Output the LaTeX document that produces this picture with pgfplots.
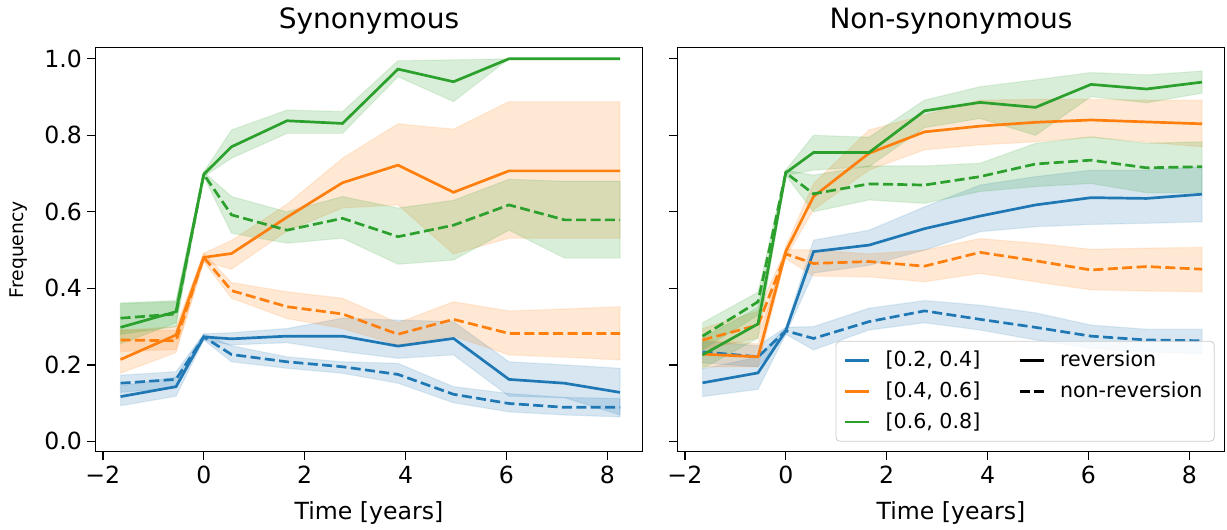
\documentclass[border=0pt]{standalone}
\usepackage{fontspec}
\setmainfont{DejaVu Sans}
\usepackage{pgfplots}
\pgfplotsset{compat=1.18}
\usepackage{pgfplotstable}
\usepgfplotslibrary{fillbetween}

\definecolor{c1}{HTML}{1F77B4}
\definecolor{c2}{HTML}{FF7F0E}
\definecolor{c3}{HTML}{2CA02C}

\pgfplotstableread{
x     bs   bsl  bsh  bd   bdl  bdh  os   osl  osh  od   odl  odh  gs   gsl  gsh  gd   gdl  gdh
-1.65 .117 .093 .145 .152 .128 .173 .214 .178 .290 .265 .235 .292 .298 .255 .362 .322 .280 .360
-0.55 .143 .118 .168 .162 .140 .182 .278 .232 .300 .263 .240 .290 .339 .310 .368 .333 .300 .365
0     .273 .265 .281 .273 .265 .281 .481 .470 .492 .481 .470 .492 .698 .692 .704 .698 .692 .704
0.55  .268 .252 .284 .227 .208 .250 .491 .450 .525 .394 .374 .415 .770 .740 .814 .592 .544 .640
1.65  .275 .258 .295 .208 .191 .221 .586 .550 .620 .352 .321 .391 .838 .805 .866 .552 .518 .600
2.75  .275 .235 .322 .195 .178 .208 .676 .610 .740 .333 .295 .374 .831 .805 .862 .583 .531 .640
3.85  .249 .217 .317 .175 .152 .204 .722 .618 .830 .280 .252 .310 .973 .953 .995 .535 .463 .610
4.95  .269 .226 .313 .123 .101 .143 .651 .490 .816 .319 .275 .365 .940 .888 .997 .565 .474 .630
6.05  .162 .118 .208 .099 .077 .125 .707 .531 .888 .282 .226 .341 1.0  1.0  1.0  .618 .552 .685
7.15  .152 .114 .200 .089 .069 .115 .707 .531 .888 .282 .220 .346 1.0  1.0  1.0  .579 .479 .680
8.25  .128 .069 .191 .089 .064 .112 .707 .531 .888 .282 .213 .352 1.0  1.0  1.0  .579 .479 .680
}\syn

\pgfplotstableread{
x     bs   bsl  bsh  bd   bdl  bdh  os   osl  osh  od   odl  odh  gs   gsl  gsh  gd   gdl  gdh
-1.65 .153 .117 .190 .234 .205 .262 .228 .195 .265 .265 .240 .295 .226 .190 .270 .275 .240 .310
-0.55 .179 .136 .220 .221 .195 .250 .221 .195 .255 .304 .270 .340 .307 .270 .350 .365 .330 .390
0     .289 .280 .298 .289 .280 .298 .496 .482 .510 .490 .478 .502 .702 .695 .709 .702 .695 .709
0.55  .496 .440 .526 .269 .239 .300 .640 .605 .674 .465 .432 .500 .755 .709 .800 .647 .600 .696
1.65  .513 .460 .552 .313 .291 .348 .753 .709 .814 .470 .430 .490 .755 .718 .795 .673 .631 .720
2.75  .556 .500 .613 .341 .310 .368 .809 .762 .853 .458 .417 .500 .864 .820 .892 .670 .622 .720
3.85  .589 .548 .670 .319 .291 .356 .824 .775 .892 .494 .439 .530 .886 .844 .927 .692 .653 .727
4.95  .618 .561 .692 .298 .265 .336 .834 .783 .894 .472 .417 .518 .873 .800 .945 .725 .666 .779
6.05  .637 .567 .709 .275 .243 .304 .840 .795 .894 .448 .396 .502 .933 .901 .964 .735 .674 .796
7.15  .635 .570 .709 .265 .234 .293 .835 .782 .892 .457 .393 .505 .921 .885 .958 .715 .650 .779
8.25  .646 .574 .718 .263 .229 .293 .830 .770 .892 .450 .391 .507 .939 .910 .968 .718 .650 .783
}\nonsyn

% band: #1 table, #2 column, #3 colour, #4 prefix
\newcommand{\band}[4]{%
  \addplot[draw=none, forget plot, name path=#4#2lo] table[x=x,y=#2l]{#1};
  \addplot[draw=none, forget plot, name path=#4#2hi] table[x=x,y=#2h]{#1};
  \addplot[fill=#3, fill opacity=0.18, draw=#3, draw opacity=0.12, line width=0.6pt, forget plot] fill between[of=#4#2lo and #4#2hi];
}
\newcommand{\allseries}[2]{%
  \band{#1}{bs}{c1}{#2}\band{#1}{bd}{c1}{#2}%
  \band{#1}{os}{c2}{#2}\band{#1}{od}{c2}{#2}%
  \band{#1}{gs}{c3}{#2}\band{#1}{gd}{c3}{#2}%
  \addplot[c1, solidln, forget plot] table[x=x,y=bs]{#1};
  \addplot[c1, dashln, forget plot] table[x=x,y=bd]{#1};
  \addplot[c2, solidln, forget plot] table[x=x,y=os]{#1};
  \addplot[c2, dashln, forget plot] table[x=x,y=od]{#1};
  \addplot[c3, solidln, forget plot] table[x=x,y=gs]{#1};
  \addplot[c3, dashln, forget plot] table[x=x,y=gd]{#1};
}

\pgfplotsset{
  solidln/.style={line width=1.35pt},
  dashln/.style={line width=1.35pt, dash pattern=on 5pt off 2.2pt},
  myax/.style={
    scale only axis, width=273.7pt, height=202pt, anchor=south west,
    xmin=-2.15, xmax=8.7, ymin=-0.027, ymax=1.029,
    xtick={-2,0,2,4,6,8}, xticklabels={−2,0,2,4,6,8},
    ytick={0,0.2,0.4,0.6,0.8,1.0},
    tick align=outside, tick pos=left,
    major tick length=4.2pt,
    every tick/.style={black, line width=0.65pt},
    axis line style={line width=0.65pt},
    ticklabel style={font=\fontsize{11.8}{13}\selectfont, inner sep=0pt},
    xticklabel style={anchor=base, yshift=-11.7pt},
    yticklabel style={anchor=east, xshift=-2.3pt},
    title style={at={(0.5,1)}, anchor=base, yshift=3.35pt, font=\fontsize{14}{16}\selectfont, inner sep=0pt},
    xlabel style={at={(0.5,0)}, anchor=base, yshift=-34pt, font=\fontsize{11.8}{13}\selectfont, inner sep=0pt},
    xlabel={Time [years]},
  }
}

\begin{document}
\begin{tikzpicture}
\begin{axis}[myax, at={(47.65pt,39.15pt)}, title={Synonymous},
  yticklabels={0.0,0.2,0.4,0.6,0.8,1.0},
  ylabel={Frequency},
  ylabel style={at={(0,0.5)}, anchor=center, yshift=38.2pt, font=\fontsize{9.4}{11}\selectfont, inner sep=0pt}]
\allseries{\syn}{L}
\end{axis}
\begin{axis}[myax, at={(338.65pt,39.15pt)}, title={Non-synonymous},
  yticklabels={,,,,,},
  legend columns=2,
  legend cell align=left,
  legend image code/.code={\draw[#1] (0pt,0pt) -- (12pt,0pt);},
  legend style={at={(1,0)}, anchor=south east, xshift=-5pt, yshift=5pt,
    draw=black!20, rounded corners=2pt, fill=white, fill opacity=0.8, text opacity=1,
    font=\fontsize{10.3}{12}\selectfont, inner xsep=4pt, inner ysep=3pt,
    row sep=2pt,
    /tikz/every odd column/.append style={column sep=5.5pt},
    /tikz/every even column/.append style={column sep=17pt}}]
\allseries{\nonsyn}{R}
\addlegendimage{c1, solidln}\addlegendentry{[0.2, 0.4]}
\addlegendimage{black, solidln}\addlegendentry{reversion}
\addlegendimage{c2, solidln}\addlegendentry{[0.4, 0.6]}
\addlegendimage{black, dashln}\addlegendentry{non-reversion}
\addlegendimage{c3, solidln}\addlegendentry{[0.6, 0.8]}
\end{axis}
\pgfresetboundingbox
\useasboundingbox (0,0) rectangle (613.5pt,265pt);
\end{tikzpicture}
\end{document}
